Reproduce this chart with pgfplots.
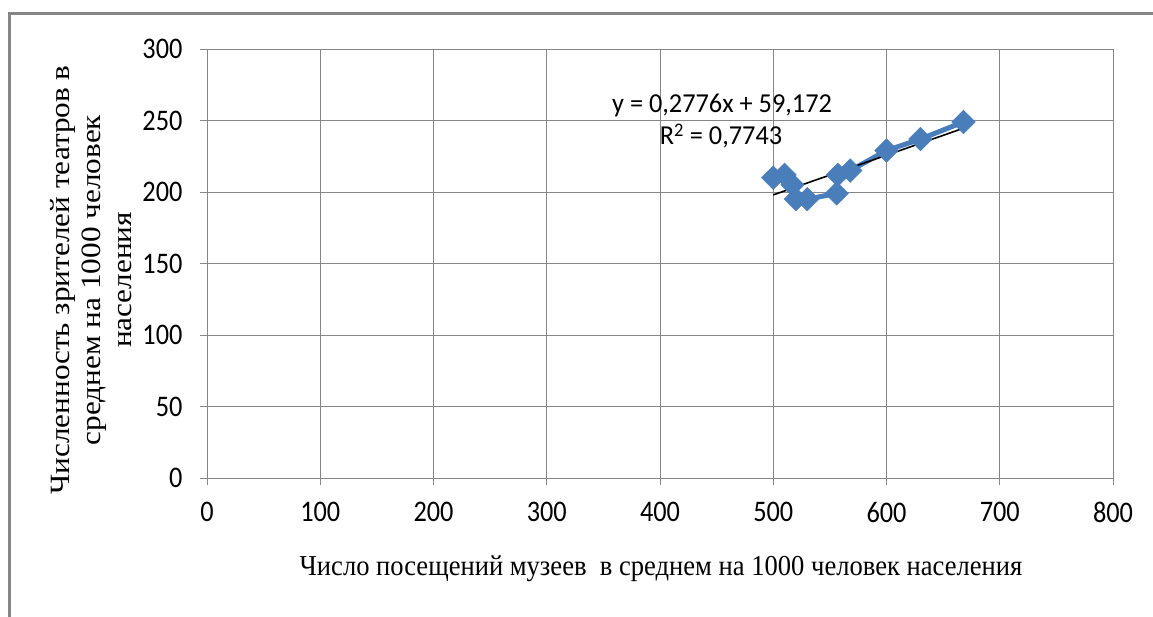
\documentclass[border=0pt]{standalone}
\usepackage{fontspec}
\setmainfont{Liberation Serif}
\newfontfamily\tickfont[FakeStretch=0.88]{Carlito}
\newfontfamily\eqfont[FakeStretch=0.96]{Carlito}
\newfontfamily\labfont[FakeStretch=0.92]{Liberation Serif}
\newfontfamily\ylabfont[FakeStretch=1.12]{Liberation Serif}
\usepackage{pgfplots}
\pgfplotsset{compat=1.18}
\definecolor{exblue}{RGB}{74,126,187}
\definecolor{gridc}{RGB}{134,134,134}
\begin{document}
\begin{tikzpicture}[x=1bp,y=1bp]
\useasboundingbox (0,0) rectangle (1153,-617);
\fill[white] (0,0) rectangle (1153,-617);
\draw[gridc, line width=3bp] (9.5,-617) -- (9.5,-13.5) -- (1153,-13.5);
\begin{axis}[
  at={(207bp,-478bp)}, anchor=south west,
  scale only axis, width=906bp, height=429bp,
  xmin=0, xmax=800, ymin=0, ymax=300,
  xtick={0,100,...,800}, ytick={0,50,...,300},
  grid=major, grid style={gridc, line width=1bp},
  axis x line*=bottom, axis y line*=left,
  axis line style={gridc, line width=1bp, -},
  tick style={gridc, line width=1bp},
  tick align=outside, major tick length=7bp,
  /pgf/number format/assume math mode=true,
  /pgf/number format/1000 sep={},
  tick label style={font=\tickfont\fontsize{30}{32}\selectfont, text=black},
  xticklabel style={yshift=-14bp},
  yticklabel style={xshift=-14bp},
  clip=false,
]
\addplot[exblue, line width=5bp, mark=square*, mark size=8.3bp,
  mark options={rotate=45, fill=exblue, draw=exblue, line width=0.5bp}]
  coordinates {
  (500,210) (510,212) (517,205) (520,195) (530,195) (556,199)
  (557,212) (568,215) (600,229) (630,237) (668,249)
  };
\addplot[black, line width=1.6bp, no marks] coordinates {(500,197.97) (668,244.61)};
\end{axis}
\node[anchor=base, font=\eqfont\fontsize{27.5}{29}\selectfont, inner sep=0] at (722,-113) {y = 0,2776x + 59,172};
\node[anchor=base, font=\eqfont\fontsize{27.5}{29}\selectfont, inner sep=0] at (721,-145) {R\textsuperscript{2} = 0,7743};
\node[anchor=base, font=\labfont\fontsize{29}{31}\selectfont, inner sep=0] at (661,-575) {Число посещений музеев \ в среднем на 1000 человек населения};
\node[rotate=90, align=center, font=\ylabfont\fontsize{28}{31}\selectfont, inner sep=0] at (91,-280) {Численность зрителей театров в\\среднем на 1000 человек\\населения};
\end{tikzpicture}
\end{document}
